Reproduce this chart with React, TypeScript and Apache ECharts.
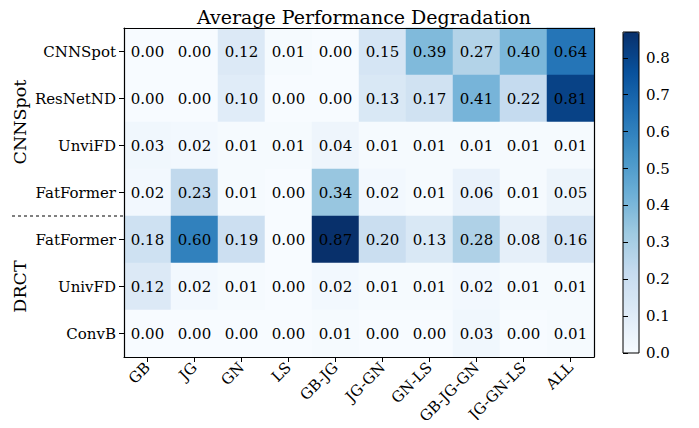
import React, { useEffect, useRef } from "react";
import * as echarts from "echarts";

const xCategories = ["GB", "JG", "GN", "LS", "GB-JG", "JG-GN", "GN-LS", "GB-JG-GN", "JG-GN-LS", "ALL"];
const yCategories = ["CNNSpot", "ResNetND", "UnviFD", "FatFormer", "FatFormer", "UnivFD", "ConvB"];
const groupNames = ["CNNSpot", "DRCT"];
const groupSizes = [4, 3];

const rowCNNSpot = [0.0, 0.0, 0.12, 0.01, 0.0, 0.15, 0.39, 0.27, 0.4, 0.64];
const rowResNetND = [0.0, 0.0, 0.1, 0.0, 0.0, 0.13, 0.17, 0.41, 0.22, 0.81];
const rowUnviFD = [0.03, 0.02, 0.01, 0.01, 0.04, 0.01, 0.01, 0.01, 0.01, 0.01];
const rowFatFormerA = [0.02, 0.23, 0.01, 0.0, 0.34, 0.02, 0.01, 0.06, 0.01, 0.05];
const rowFatFormerB = [0.18, 0.6, 0.19, 0.0, 0.87, 0.2, 0.13, 0.28, 0.08, 0.16];
const rowUnivFD = [0.12, 0.02, 0.01, 0.0, 0.02, 0.01, 0.01, 0.02, 0.01, 0.01];
const rowConvB = [0.0, 0.0, 0.0, 0.0, 0.01, 0.0, 0.0, 0.03, 0.0, 0.01];
const rows = [rowCNNSpot, rowResNetND, rowUnviFD, rowFatFormerA, rowFatFormerB, rowUnivFD, rowConvB];

const colorbarTicks = [0, 0.1, 0.2, 0.3, 0.4, 0.5, 0.6, 0.7, 0.8];
const vMin = 0;
const vMax = 0.87;

const blues = ["#f7fbff", "#deebf7", "#c6dbef", "#9ecae1", "#6baed6", "#4292c6", "#2171b5", "#08519c", "#08306b"];

const FONT = "DejaVu Serif";
const TICK_FS = 15;

export default function App() {
  const ref = useRef<HTMLDivElement>(null);
  useEffect(() => {
    if (!ref.current) return;
    const chart = echarts.init(ref.current, undefined, { renderer: "svg" });
    const data: number[][] = [];
    rows.forEach((r, yi) => r.forEach((v, xi) => data.push([xi, yi, v])));

    const G = { left: 124, top: 28, width: 470, height: 329 };
    const C = { left: 623, top: 32, width: 16, height: 321 };
    const cellH = G.height / yCategories.length;

    const graphics: any[] = [];
    let acc = 0;
    groupNames.forEach((name, i) => {
      const center = G.top + (acc + groupSizes[i] / 2) * cellH;
      graphics.push({
        type: "text",
        x: 20,
        y: center,
        rotation: Math.PI / 2,
        style: {
          text: name,
          font: `17.5px "${FONT}"`,
          fill: "#000",
          align: "center",
          verticalAlign: "middle",
        },
        z: 100,
      });
      acc += groupSizes[i];
      if (i < groupNames.length - 1) {
        const yy = G.top + acc * cellH;
        graphics.push({
          type: "line",
          shape: { x1: 12, y1: yy, x2: G.left, y2: yy },
          style: { stroke: "#000", lineWidth: 1, lineDash: [3, 3] },
          z: 100,
        });
      }
    });
    graphics.push({
      type: "rect",
      shape: { x: C.left, y: C.top, width: C.width, height: C.height },
      style: { fill: "none", stroke: "#000", lineWidth: 1 },
      z: 100,
    });

    const lineOnly = {
      show: true,
      z: 10,
      axisLine: { show: true, lineStyle: { color: "#000", width: 1.2 } },
      axisTick: { show: false },
      axisLabel: { show: false },
      splitLine: { show: false },
    };

    chart.setOption({
      animation: false,
      textStyle: { fontFamily: FONT },
      title: {
        text: "Average Performance Degradation",
        left: G.left + G.width / 2,
        textAlign: "center",
        top: 2,
        textStyle: { fontFamily: FONT, fontSize: 19, fontWeight: "normal", color: "#000" },
      },
      grid: [
        { ...G, containLabel: false },
        { ...C, containLabel: false },
      ],
      xAxis: [
        {
          type: "category",
          data: xCategories,
          gridIndex: 0,
          position: "bottom",
          z: 10,
          axisLine: { show: true, lineStyle: { color: "#000", width: 1.2 } },
          axisTick: { show: true, alignWithLabel: true, length: 5, lineStyle: { color: "#000" } },
          axisLabel: { rotate: 45, fontSize: TICK_FS, color: "#000", fontFamily: FONT, margin: 8, interval: 0 },
          splitLine: { show: false },
          splitArea: { show: false },
        },
        { type: "category", data: xCategories, gridIndex: 0, position: "top", ...lineOnly },
        { type: "value", gridIndex: 1, show: false },
      ],
      yAxis: [
        {
          type: "category",
          data: yCategories,
          gridIndex: 0,
          inverse: true,
          position: "left",
          z: 10,
          axisLine: { show: true, lineStyle: { color: "#000", width: 1.2 } },
          axisTick: { show: true, alignWithLabel: true, length: 5, lineStyle: { color: "#000" } },
          axisLabel: { fontSize: TICK_FS, color: "#000", fontFamily: FONT, margin: 8, interval: 0 },
          splitLine: { show: false },
          splitArea: { show: false },
        },
        { type: "category", data: yCategories, gridIndex: 0, inverse: true, position: "right", ...lineOnly },
        {
          type: "value",
          gridIndex: 1,
          position: "right",
          min: vMin,
          max: vMax,
          z: 10,
          axisLine: { show: false },
          axisTick: { show: true, length: 5, lineStyle: { color: "#000" }, customValues: colorbarTicks },
          axisLabel: {
            fontSize: TICK_FS,
            color: "#000",
            fontFamily: FONT,
            margin: 7,
            customValues: colorbarTicks,
            formatter: (v: number) => v.toFixed(1),
          },
          splitLine: { show: false },
        },
      ],
      visualMap: {
        type: "continuous",
        min: vMin,
        max: vMax,
        seriesIndex: 0,
        dimension: 2,
        calculable: false,
        orient: "vertical",
        left: C.left,
        top: C.top,
        itemWidth: C.width,
        itemHeight: C.height,
        padding: 0,
        text: null,
        showLabel: false,
        hoverLink: false,
        inRange: { color: blues },
      },
      series: [
        {
          type: "heatmap",
          xAxisIndex: 0,
          yAxisIndex: 0,
          data,
          label: {
            show: true,
            fontSize: TICK_FS,
            fontFamily: FONT,
            color: "#000",
            formatter: (p: any) => p.value[2].toFixed(2),
          },
          emphasis: { disabled: true },
        },
      ],
      graphic: graphics,
    });
    return () => chart.dispose();
  }, []);
  return <div ref={ref} style={{ width: 699, height: 428, margin: -8 }} />;
}
